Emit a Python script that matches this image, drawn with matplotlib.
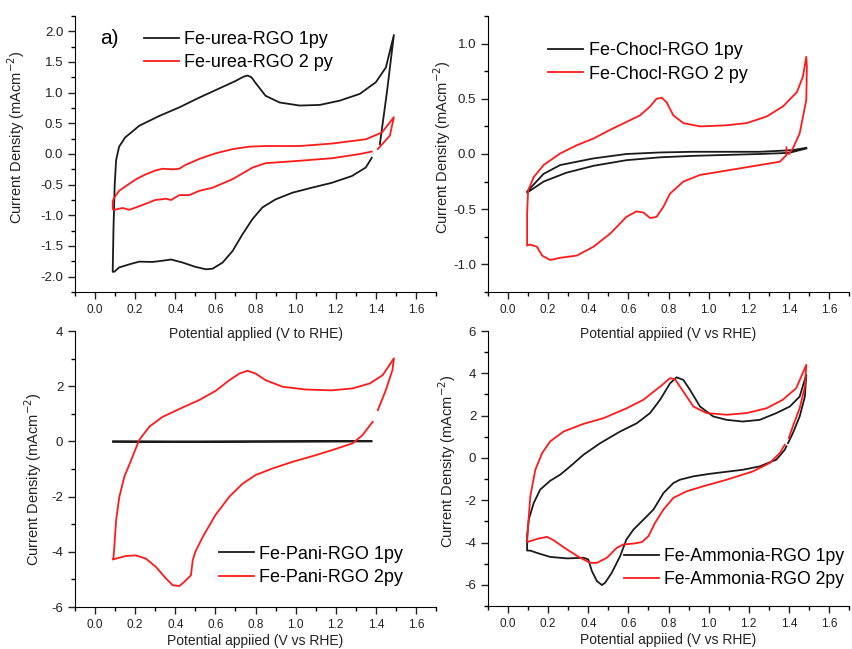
import matplotlib.pyplot as plt
from matplotlib.ticker import MultipleLocator, FormatStrFormatter

plt.rcParams['font.family'] = ['Liberation Sans', 'DejaVu Sans']
plt.rcParams['axes.unicode_minus'] = False

# a) Fe-urea-RGO
a1_x = [1.38, 1.35, 1.28, 1.18, 1.08, 0.985, 0.90, 0.835, 0.785, 0.735, 0.686, 0.636, 0.586, 0.553, 0.50, 0.437,
        0.379, 0.337, 0.287, 0.22, 0.17, 0.12, 0.096, 0.088,
        0.092, 0.098, 0.105, 0.12, 0.15, 0.18,
        0.22, 0.32, 0.42, 0.52, 0.62, 0.70, 0.74, 0.76, 0.78, 0.80, 0.85, 0.92, 1.02, 1.12, 1.22, 1.32, 1.40,
        1.45, 1.49,
        1.455, 1.42]
a1_y = [-0.06, -0.22, -0.36, -0.47, -0.55, -0.63, -0.74, -0.87, -1.06, -1.31, -1.58, -1.77, -1.87, -1.88, -1.84, -1.77,
        -1.72, -1.74, -1.76, -1.755, -1.80, -1.85, -1.92, -1.92,
        -1.2, -0.5, -0.1, 0.12, 0.27, 0.35,
        0.46, 0.62, 0.76, 0.92, 1.07, 1.19, 1.26, 1.28, 1.25, 1.16, 0.95, 0.84, 0.79, 0.80, 0.87, 0.98, 1.17,
        1.41, 1.94,
        1.0, 0.16]
a2_x = [1.38, 1.32, 1.18, 1.02, 0.85, 0.786, 0.686, 0.586, 0.52, 0.47, 0.42, 0.379, 0.354, 0.30, 0.254, 0.205,
        0.17, 0.138, 0.096, 0.088,
        0.088, 0.096, 0.12, 0.155, 0.205, 0.254, 0.30, 0.337, 0.39, 0.42, 0.45, 0.52, 0.60, 0.686, 0.77, 0.85,
        1.02, 1.18, 1.35, 1.43, 1.49,
        1.47, 1.41]
a2_y = [0.04, 0.00, -0.07, -0.11, -0.15, -0.22, -0.41, -0.55, -0.60, -0.67, -0.67, -0.75, -0.73, -0.75, -0.81, -0.87,
        -0.91, -0.88, -0.91, -0.90,
        -0.77, -0.71, -0.60, -0.52, -0.41, -0.33, -0.27, -0.24, -0.25, -0.24, -0.18, -0.08, 0.01, 0.08, 0.12, 0.13,
        0.13, 0.17, 0.24, 0.35, 0.60,
        0.30, 0.08]

# b) Fe-Chocl-RGO
b1_x = [1.487, 1.40, 1.255, 0.92, 0.758, 0.59, 0.426, 0.29, 0.177, 0.095,
        0.095, 0.177, 0.26, 0.426, 0.59, 0.758, 0.92, 1.255, 1.42, 1.487]
b1_y = [0.05, 0.01, 0.0, -0.017, -0.03, -0.056, -0.107, -0.17, -0.25, -0.35,
        -0.34, -0.18, -0.10, -0.04, 0.00, 0.014, 0.02, 0.02, 0.035, 0.056]
b2_x = [1.388, 1.388, 1.355, 1.255, 1.09, 0.957, 0.874, 0.807, 0.774, 0.74, 0.708, 0.675, 0.64, 0.59, 0.51,
        0.426, 0.343, 0.26, 0.21, 0.17, 0.144, 0.11, 0.095,
        0.095, 0.10, 0.128, 0.177, 0.26, 0.343, 0.426, 0.51, 0.59, 0.658, 0.708, 0.74, 0.766, 0.79, 0.824,
        0.874, 0.957, 1.09, 1.19, 1.29, 1.37, 1.44, 1.47, 1.487,
        1.49, 1.487, 1.454, 1.42, 1.40]
b2_y = [0.06, -0.01, -0.07, -0.10, -0.15, -0.19, -0.25, -0.36, -0.48, -0.57, -0.58, -0.53, -0.52, -0.57, -0.72,
        -0.84, -0.92, -0.94, -0.96, -0.92, -0.84, -0.82, -0.83,
        -0.54, -0.33, -0.21, -0.10, 0.005, 0.08, 0.14, 0.22, 0.29, 0.35, 0.43, 0.50, 0.51, 0.47, 0.35,
        0.28, 0.25, 0.26, 0.28, 0.34, 0.43, 0.56, 0.70, 0.88,
        0.79, 0.49, 0.186, 0.05, 0.0]

# c) Fe-Pani-RGO
c1_x = [0.09, 0.45, 1.38, 1.38, 0.45, 0.09]
c1_y = [0.0, 0.0, 0.01, 0.0, -0.02, -0.01]
c2_x = [1.384, 1.334, 1.284, 1.18, 1.10, 0.985, 0.885, 0.80, 0.736, 0.67, 0.60, 0.537, 0.50, 0.487, 0.478, 0.445,
        0.42, 0.387, 0.354, 0.304, 0.254, 0.204, 0.154, 0.088,
        0.092, 0.096, 0.105, 0.121, 0.146, 0.18, 0.22, 0.27, 0.337, 0.437, 0.52, 0.603, 0.67, 0.72, 0.76, 0.80,
        0.85, 0.935, 1.05, 1.18, 1.284, 1.37, 1.434, 1.49,
        1.483, 1.45, 1.41]
c2_y = [0.71, 0.23, -0.07, -0.32, -0.50, -0.74, -0.98, -1.22, -1.53, -2.0, -2.67, -3.46, -4.0, -4.31, -4.85, -5.09,
        -5.24, -5.21, -4.97, -4.55, -4.25, -4.13, -4.15, -4.28,
        -4.2, -3.82, -2.86, -2.01, -1.28, -0.68, 0.05, 0.53, 0.89, 1.23, 1.50, 1.84, 2.22, 2.46, 2.56, 2.46,
        2.22, 1.98, 1.88, 1.85, 1.92, 2.10, 2.40, 3.01,
        2.59, 1.86, 1.13]

# d) Fe-Ammonia-RGO
d1_x = [1.388, 1.38, 1.338, 1.255, 1.17, 1.007, 0.924, 0.857, 0.824, 0.775, 0.725, 0.675, 0.625, 0.59, 0.559,
        0.517, 0.484, 0.468, 0.443, 0.418, 0.40, 0.376, 0.294, 0.21, 0.144, 0.111, 0.095,
        0.095, 0.103, 0.128, 0.16, 0.21, 0.26, 0.31, 0.376, 0.46, 0.559, 0.642, 0.708, 0.758, 0.808, 0.84,
        0.874, 0.907, 0.957, 1.023, 1.09, 1.17, 1.255, 1.338, 1.405, 1.454, 1.479, 1.487,
        1.48, 1.454, 1.42, 1.396]
d1_y = [0.55, 0.39, -0.08, -0.40, -0.56, -0.75, -0.87, -1.03, -1.19, -1.66, -2.44, -2.92, -3.39, -3.86, -4.64,
        -5.43, -5.90, -6.01, -5.82, -5.35, -4.80, -4.72, -4.75, -4.68, -4.49, -4.38, -4.38,
        -3.70, -2.92, -2.13, -1.50, -1.08, -0.79, -0.40, 0.15, 0.70, 1.25, 1.64, 2.12, 2.75, 3.53, 3.81,
        3.69, 3.22, 2.43, 1.96, 1.80, 1.72, 1.80, 2.12, 2.43, 2.90, 3.69, 3.92,
        2.9, 1.96, 1.17, 0.70]
d2_x = [1.38, 1.355, 1.305, 1.22, 1.09, 0.973, 0.89, 0.824, 0.775, 0.733, 0.70, 0.667, 0.625, 0.575, 0.542,
        0.493, 0.443, 0.41, 0.36, 0.294, 0.227, 0.194, 0.144, 0.095,
        0.10, 0.111, 0.136, 0.17, 0.21, 0.277, 0.376, 0.476, 0.592, 0.675, 0.758, 0.808, 0.832, 0.874, 0.924,
        0.99, 1.09, 1.19, 1.29, 1.37, 1.437, 1.487,
        1.48, 1.454, 1.42, 1.40]
d2_y = [0.62, 0.23, -0.24, -0.64, -1.03, -1.34, -1.58, -1.89, -2.44, -3.07, -3.70, -3.98, -4.05, -4.09, -4.25,
        -4.72, -4.96, -4.96, -4.72, -4.33, -3.89, -3.73, -3.83, -3.98,
        -3.23, -1.81, -0.56, 0.23, 0.78, 1.25, 1.61, 1.88, 2.35, 2.75, 3.37, 3.77, 3.72, 3.14, 2.43,
        2.12, 2.04, 2.12, 2.35, 2.75, 3.30, 4.40,
        3.37, 2.35, 1.49, 0.94]

ylabel = r'Current Density (mAcm$^{-2}$)'
black = '#1a1a1a'
red = '#ff1a1a'

fig = plt.figure(figsize=(8.52, 6.49), dpi=100)

# positions of the 4 panels (pixels -> figure fraction)
W, H = 852.0, 649.0
def box(l, r, t, b):
    return [l / W, 1 - b / H, (r - l) / W, (b - t) / H]

ax_a = fig.add_axes(box(75, 436, 16, 292))
ax_b = fig.add_axes(box(488, 849, 16, 292))
ax_c = fig.add_axes(box(75, 436, 331, 607))
ax_d = fig.add_axes(box(488, 849, 331, 606))


def style(ax, ylim, ymaj, ymin, fmt, xlabel, xpad, ylab_pos, leg_pos, leg_fs=13):
    ax.patch.set_alpha(0)
    ax.set_xlim(-0.1, 1.7)
    ax.set_ylim(*ylim)
    ax.spines['top'].set_visible(False)
    ax.spines['right'].set_visible(False)
    ax.xaxis.set_major_locator(MultipleLocator(0.2))
    ax.xaxis.set_minor_locator(MultipleLocator(0.1))
    ax.yaxis.set_major_locator(MultipleLocator(ymaj))
    ax.yaxis.set_minor_locator(MultipleLocator(ymin))
    ax.xaxis.set_major_formatter(FormatStrFormatter('%.1f'))
    ax.yaxis.set_major_formatter(FormatStrFormatter(fmt))
    ax.tick_params(which='major', direction='out', length=5, width=1, labelsize=9.5, colors='#222222')
    ax.tick_params(which='minor', direction='out', length=3, width=1)
    ax.tick_params(axis='x', labelsize=8.5)
    ax.set_xlabel(xlabel, fontsize=10, labelpad=xpad, color='#222222')
    ax.set_ylabel(ylabel, fontsize=10.5, color='#222222')
    ax.yaxis.set_label_coords(*ylab_pos)
    ax.legend(loc='upper left', bbox_to_anchor=leg_pos, frameon=False, fontsize=leg_fs,
              handlelength=1.95, handletextpad=0.3, labelspacing=0.35, borderpad=0, borderaxespad=0)


# a)
ax_a.plot(a1_x, a1_y, color=black, lw=1.3, label='Fe-urea-RGO 1py')
ax_a.plot(a2_x, a2_y, color=red, lw=1.3, label='Fe-urea-RGO 2 py')
style(ax_a, (-2.25, 2.25), 0.5, 0.25, '%.1f', 'Potential applied (V to RHE)', 8,
      (-0.133, 0.56), (0.19, 0.945))
ax_a.text(0.069, 0.92, 'a)', transform=ax_a.transAxes, fontsize=15, va='center', ha='left')

# b)
ax_b.plot(b1_x, b1_y, color=black, lw=1.3, label='Fe-Chocl-RGO 1py')
ax_b.plot(b2_x, b2_y, color=red, lw=1.3, label='Fe-Chocl-RGO 2 py')
style(ax_b, (-1.25, 1.25), 0.5, 0.25, '%.1f', 'Potential appiied (V vs RHE)', 8,
      (-0.098, 0.525), (0.166, 0.905))

# c)
ax_c.plot(c1_x, c1_y, color=black, lw=1.3, label='Fe-Pani-RGO 1py')
ax_c.plot(c2_x, c2_y, color=red, lw=1.3, label='Fe-Pani-RGO 2py')
style(ax_c, (-6, 4), 2, 1, '%d', 'Potential appiied (V vs RHE)', 2.5,
      (-0.086, 0.464), (0.398, 0.222))

# d)
ax_d.plot(d1_x, d1_y, color=black, lw=1.3, label='Fe-Ammonia-RGO 1py')
ax_d.plot(d2_x, d2_y, color=red, lw=1.3, label='Fe-Ammonia-RGO 2py')
style(ax_d, (-7, 6), 2, 1, '%d', 'Potential appiied (V vs RHE)', 2.5,
      (-0.083, 0.527), (0.378, 0.212), leg_fs=12.7)

fig.savefig('out.png', dpi=100)
